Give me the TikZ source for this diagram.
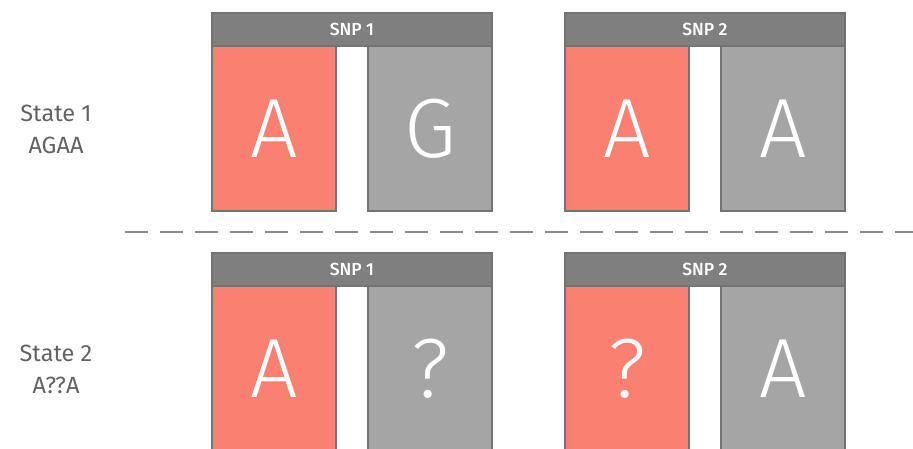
\documentclass[tikz,border=0pt]{standalone}
\usepackage{fontspec}
\setmainfont{Fira Sans}
\newfontfamily\thinfont{Fira Sans Light}
\newfontfamily\medfont{Fira Sans Medium}
\definecolor{salmonc}{HTML}{FA8072}
\definecolor{grayc}{HTML}{A5A5A5}
\definecolor{headc}{HTML}{7F7F7F}
\definecolor{edgec}{HTML}{737373}
\definecolor{textc}{HTML}{626262}
\definecolor{dashc}{HTML}{8A8A8A}
\tikzset{
  base/.style={draw=edgec, line width=1.3pt, inner sep=0pt, text=white},
  redbox/.style={base, fill=salmonc, minimum width=124pt, minimum height=165pt, font=\thinfont\fontsize{84}{84}\selectfont},
  graybox/.style={base, fill=grayc, minimum width=124pt, minimum height=165pt, font=\thinfont\fontsize{84}{84}\selectfont},
  header/.style={base, fill=headc, minimum width=280pt, minimum height=33pt, font=\medfont\fontsize{17.5}{17.5}\selectfont},
  statelabel/.style={text=textc, align=center, font=\fontsize{23.5}{32}\selectfont}
}
\begin{document}
\begin{tikzpicture}[x=1pt,y=1pt]
\useasboundingbox (0,0) rectangle (913,449);
\clip (0,0) rectangle (913,449);
% State 1
\node[redbox]  (r11) at (274,320.5) {A};
\node[graybox] (g11) at (430,320.5) {G};
\node[redbox]  (r12) at (627,320.5) {A};
\node[graybox] (g12) at (783,320.5) {A};
\node[header]  (h11) at (352,419.5) {SNP 1};
\node[header]  (h12) at (705,419.5) {SNP 2};
\node[statelabel] (s1) at (56,320) {State 1\\AGAA};
% divider
\coordinate (d1) at (125,217);
\coordinate (d2) at (913,217);
\draw[dashc, line width=2pt, dash pattern=on 23pt off 12pt] (d1) -- (d2);
% State 2
\node[redbox]  (r21) at (274,80.5) {A};
\node[graybox] (g21) at (430,80.5) {?};
\node[redbox]  (r22) at (627,80.5) {?};
\node[graybox] (g22) at (783,80.5) {A};
\node[header]  (h21) at (352,179.5) {SNP 1};
\node[header]  (h22) at (705,179.5) {SNP 2};
\node[statelabel] (s2) at (56,80) {State 2\\A??A};
\end{tikzpicture}
\end{document}
